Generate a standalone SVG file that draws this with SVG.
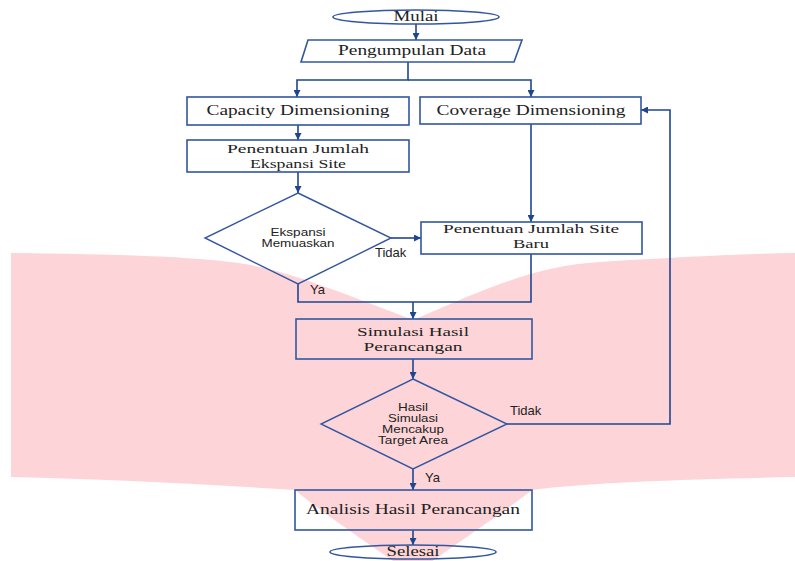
<svg xmlns="http://www.w3.org/2000/svg" width="795" height="561" viewBox="0 0 795 561">
<defs>
<marker id="ah" viewBox="0 0 10 10" refX="10" refY="5" markerWidth="7" markerHeight="7" markerUnits="userSpaceOnUse" orient="auto">
<path d="M0,0 L10,5 L0,10 z" fill="#1E4590"/>
</marker>
<style>
.box{fill:none;stroke:#3356A0;stroke-width:1.6}
.wbox{fill:#ffffff;stroke:#3356A0;stroke-width:1.6}
.dia{fill:none;stroke:#3356A0;stroke-width:1.4}
.ser{font-family:"Liberation Serif","Times New Roman",serif;font-size:14px;fill:#222;text-anchor:middle}
.ser2{font-family:"Liberation Serif","Times New Roman",serif;font-size:13px;fill:#222;text-anchor:middle}
.san{font-family:"Liberation Sans",Arial,sans-serif;font-size:10.5px;fill:#222;text-anchor:middle}
.lab{font-family:"Liberation Sans",Arial,sans-serif;font-size:13px;fill:#222}
.con{fill:none;stroke:#1E4590;stroke-width:1.6}
</style>
</defs>
<rect width="795" height="561" fill="#ffffff"/>
<path d="M11,253 C120,254 190,257 230,262 C275,267 315,282 413,320 C500,282 540,266 600,262 C680,257 740,254 795,253 L795,477 C700,479 590,482 532,490 C500,515 440,555 413,575 C385,555 325,515 295,490 C200,484 100,479 11,477 Z" fill="#FDD5D8"/>
<g id="connectors">
<line class="con" x1="416" y1="24" x2="416" y2="40" marker-end="url(#ah)"/>
<polyline class="con" points="408,62 408,80 297,80 297,97" marker-end="url(#ah)"/>
<polyline class="con" points="408,80 531,80 531,97" marker-end="url(#ah)"/>
<line class="con" x1="298" y1="125" x2="298" y2="140" marker-end="url(#ah)"/>
<line class="con" x1="298" y1="172" x2="298" y2="193" marker-end="url(#ah)"/>
<line class="con" x1="531" y1="124" x2="531" y2="222" marker-end="url(#ah)"/>
<line class="con" x1="391" y1="238" x2="421" y2="238" marker-end="url(#ah)"/>
<polyline class="con" points="298,284 298,302 531,302 531,254"/>
<line class="con" x1="413" y1="302" x2="413" y2="319" marker-end="url(#ah)"/>
<line class="con" x1="413" y1="359" x2="413" y2="379" marker-end="url(#ah)"/>
<polyline class="con" points="507,424 670,424 670,110 641,110" marker-end="url(#ah)"/>
<line class="con" x1="413" y1="469" x2="413" y2="490" marker-end="url(#ah)"/>
<line class="con" x1="413" y1="530" x2="413" y2="545" marker-end="url(#ah)"/>
<text class="lab" x="375" y="257">Tidak</text>
<text class="lab" x="310" y="294">Ya</text>
<text class="lab" x="510" y="415">Tidak</text>
<text class="lab" x="425" y="482">Ya</text>
</g>
<g id="mulai">
<ellipse cx="416" cy="17" rx="83" ry="7" class="wbox"/>
<text class="ser" x="416" y="21" textLength="45" lengthAdjust="spacingAndGlyphs">Mulai</text>
</g>
<g id="pengumpulan">
<polygon class="wbox" points="308,40 522,40 514,62 301,62"/>
<text class="ser" x="412" y="55" textLength="148" lengthAdjust="spacingAndGlyphs">Pengumpulan Data</text>
</g>
<g id="capacity">
<rect class="wbox" x="187" y="97" width="222" height="28"/>
<text class="ser" x="298" y="115" textLength="183" lengthAdjust="spacingAndGlyphs">Capacity Dimensioning</text>
</g>
<g id="coverage">
<rect class="wbox" x="420" y="97" width="221" height="27"/>
<text class="ser" x="531" y="115" textLength="189" lengthAdjust="spacingAndGlyphs">Coverage Dimensioning</text>
</g>
<g id="ekspansi-site">
<rect class="wbox" x="187" y="140" width="222" height="32"/>
<text class="ser2" x="298" y="153" textLength="142" lengthAdjust="spacingAndGlyphs">Penentuan Jumlah</text>
<text class="ser2" x="298" y="168" textLength="96" lengthAdjust="spacingAndGlyphs">Ekspansi Site</text>
</g>
<g id="ekspansi-decision">
<polygon class="dia" points="298,193 391,238 298,284 205,238"/>
<text class="san" x="298" y="236" textLength="55" lengthAdjust="spacingAndGlyphs">Ekspansi</text>
<text class="san" x="298" y="247" textLength="73" lengthAdjust="spacingAndGlyphs">Memuaskan</text>
</g>
<g id="site-baru">
<rect class="box" x="421" y="222" width="221" height="32"/>
<text class="ser2" x="531" y="233" textLength="176" lengthAdjust="spacingAndGlyphs">Penentuan Jumlah Site</text>
<text class="ser2" x="531" y="248" textLength="36" lengthAdjust="spacingAndGlyphs">Baru</text>
</g>
<g id="simulasi">
<rect class="box" x="296" y="319" width="236" height="40"/>
<text class="ser2" x="413" y="336" textLength="112" lengthAdjust="spacingAndGlyphs">Simulasi Hasil</text>
<text class="ser2" x="413" y="351" textLength="99" lengthAdjust="spacingAndGlyphs">Perancangan</text>
</g>
<g id="hasil-decision">
<polygon class="dia" points="413,379 507,424 413,469 321,424"/>
<text class="san" x="413" y="411" textLength="30" lengthAdjust="spacingAndGlyphs">Hasil</text>
<text class="san" x="413" y="422" textLength="50" lengthAdjust="spacingAndGlyphs">Simulasi</text>
<text class="san" x="413" y="433" textLength="62" lengthAdjust="spacingAndGlyphs">Mencakup</text>
<text class="san" x="413" y="444" textLength="70" lengthAdjust="spacingAndGlyphs">Target Area</text>
</g>
<g id="analisis">
<rect class="box" x="295" y="490" width="237" height="40"/>
<text class="ser" x="413" y="514" textLength="214" lengthAdjust="spacingAndGlyphs">Analisis Hasil Perancangan</text>
</g>
<g id="selesai">
<ellipse cx="413" cy="552" rx="83" ry="7" class="box"/>
<text class="ser" x="413" y="556" textLength="53" lengthAdjust="spacingAndGlyphs">Selesai</text>
</g>
</svg>
